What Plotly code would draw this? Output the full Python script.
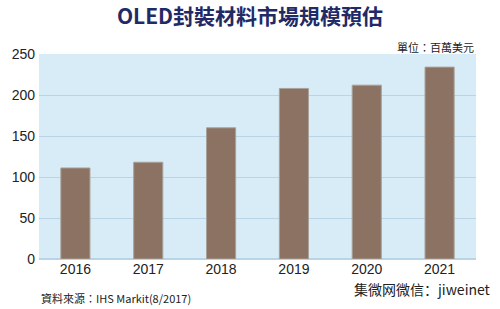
import plotly.graph_objects as go

years = ["2016", "2017", "2018", "2019", "2020", "2021"]
values = [111, 118, 160, 208, 212, 234]
y_ticks = [0, 50, 100, 150, 200, 250]

fig = go.Figure()
fig.add_trace(go.Bar(
    x=years, y=values,
    marker=dict(color="#8b7262", line=dict(color="#a8a29a", width=1)),
))
fig.update_layout(
    width=500, height=309,
    margin=dict(l=31, r=24, t=54, b=50),
    paper_bgcolor="white",
    plot_bgcolor="#d8ecf8",
    bargap=0.6,
    showlegend=False,
    font=dict(family="Liberation Sans, Arial, sans-serif", color="#222", size=14),
    title=dict(text="<b>OLED封裝材料市場規模預估</b>", x=0.5, xanchor="center",
               yref="container", y=0.945, yanchor="middle",
               font=dict(family="Noto Sans CJK TC, sans-serif", size=21, color="#1f2a66")),
    xaxis=dict(showgrid=False, ticks="", tickfont=dict(size=14, color="#222"),
               showline=False),
    yaxis=dict(range=[0, 250], tickvals=y_ticks, showgrid=True,
               gridcolor="#b8d4e6", gridwidth=1, zeroline=True,
               zerolinecolor="#b8d4e6", tickfont=dict(size=14, color="#222"),
               ticklabelstandoff=3),
)
fig.add_annotation(text="單位：百萬美元", xref="paper", yref="paper",
                   x=1.0, y=1.034, xanchor="right", yanchor="middle", showarrow=False,
                   font=dict(family="Noto Sans CJK TC, sans-serif", size=11, color="#222"))
fig.add_annotation(text="資料來源：IHS Markit(8/2017)", xref="paper", yref="paper",
                   x=0.0, y=-0.19, xanchor="left", yanchor="middle", showarrow=False,
                   font=dict(family="Noto Sans CJK TC, sans-serif", size=11, color="#222"))
fig.add_annotation(text="集微网微信：jiweinet", xref="paper", yref="paper",
                   x=1.04, y=-0.146, xanchor="right", yanchor="middle", showarrow=False,
                   font=dict(family="Noto Sans CJK SC, sans-serif", size=14, color="#222"))
fig.write_html("out.html")
